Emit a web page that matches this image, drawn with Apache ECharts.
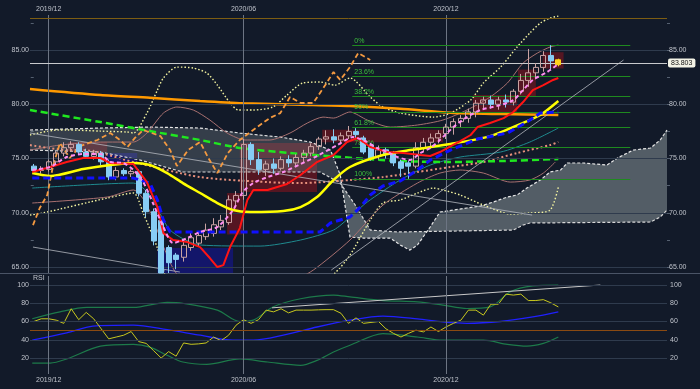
<!DOCTYPE html>
<html><head><meta charset="utf-8">
<script src="https://cdn.jsdelivr.net/npm/echarts@6/dist/echarts.min.js"></script>
<style>html,body{margin:0;padding:0;background:#121a29;}#c{width:700px;height:389px;}</style>
</head><body><div id="c"></div>
<script>
// ---- axis / tick data ----
const xTickIdx = [2, 28, 55];
const xTickLabels = ['2019/12', '2020/06', '2020/12'];
const priceTicks = [65, 70, 75, 80, 85];
const priceMinorTicks = [65, 67.5, 70, 72.5, 75, 77.5, 80, 82.5, 85, 87.5];
const rsiTicks = [20, 40, 60, 80, 100];

// ---- weekly candles: [open, close, low, high] ----
const candles = [
[74.3,73.9,73.7,74.5],[73.9,74.0,73.6,74.3],[74.0,74.7,73.8,74.9],[74.7,75.5,74.5,75.7],[75.5,76.0,75.2,76.5],
[76.0,76.3,75.6,76.6],[76.3,75.6,75.4,76.5],[75.6,75.2,75.0,75.9],[75.2,75.5,74.9,75.8],[75.5,74.7,74.4,75.7],
[74.7,73.3,73.0,74.9],[73.3,73.9,73.0,74.2],[73.9,73.6,73.4,74.1],[73.6,73.8,73.3,74.0],[73.8,71.8,71.5,74.0],
[71.8,70.1,69.6,72.1],[70.1,67.4,67.0,70.4],[69.3,64.45,64.45,69.5],[66.8,65.4,64.45,67.0],[66.1,65.7,64.8,66.3],
[65.9,67.0,65.5,67.5],[66.8,67.7,66.5,68.2],[67.2,67.9,66.9,68.3],[67.8,68.4,67.5,69.0],[68.1,68.9,67.8,69.5],
[68.7,69.3,68.4,69.8],[69.1,71.2,68.9,71.6],[71.1,71.6,70.6,72.0],[71.6,76.3,71.2,76.8],[76.3,74.9,74.4,76.5],
[74.9,74.0,73.5,75.6],[74.0,74.5,73.4,74.8],[74.5,74.1,73.6,75.0],[74.1,74.9,73.9,75.2],[74.9,74.6,74.2,75.3],
[74.6,75.1,74.3,75.4],[75.1,75.5,74.6,75.8],[75.5,76.1,75.2,76.4],[76.1,76.8,75.8,77.0],[76.8,77.0,76.3,77.6],
[77.0,76.7,76.4,77.7],[76.7,77.1,76.3,77.4],[77.1,77.5,76.8,78.0],[77.5,77.2,76.9,77.8],[76.9,75.6,75.4,77.1],
[76.2,75.0,74.8,76.4],[75.2,75.8,74.9,76.2],[75.8,75.4,75.0,76.0],[75.5,74.6,74.3,75.7],[74.7,74.1,73.3,74.9],
[74.6,74.3,73.133,74.8],[74.3,76.0,74.1,76.5],[76.0,76.5,75.6,76.9],[76.5,76.9,75.9,77.3],[76.9,77.3,76.4,77.6],
[77.3,77.9,76.8,78.2],[77.9,78.4,77.2,78.7],[78.4,78.7,77.9,79.0],[78.7,79.3,78.3,79.6],[79.3,80.1,78.8,80.4],
[80.1,80.4,79.5,80.7],[80.4,80.0,79.6,80.8],[80.0,80.4,79.5,80.7],[80.4,80.2,79.7,80.9],[80.2,81.2,79.9,81.4],
[81.2,82.2,80.9,82.8],[82.2,82.9,81.6,85.1],[82.9,83.4,82.3,83.8],[83.4,84.5,83.0,84.9],[84.5,84.0,83.2,85.449],
[84.1,83.65,83.5,84.2]
];
const lastPrice = 83.803;

// ---- overlay lines: [week index, price] ----
const maLong = [[-0.5,81.41],[8.9,80.85],[15.5,80.60],[22.2,80.30],[27.9,80.09],[35.6,79.96],[42.2,79.84],[48.9,79.59],[55.6,79.22],[62.3,79.10],[70,79.01]];
const maMid = [[-0.5,79.47],[8.9,78.36],[15.5,77.53],[22.2,76.71],[27.5,75.97],[34.2,75.51],[40.9,75.14],[48.9,74.77],[55.6,74.68],[62.3,74.77],[70,74.95]];
const maYellow = [[-0.2,73.66],[2.2,73.39],[6.6,74.03],[10.2,74.40],[13.3,74.59],[15.5,74.40],[17.8,73.66],[19.9,72.74],[22.2,71.82],[24.5,70.90],[26.6,70.25],[28.9,70.07],[33.3,70.16],[35.6,70.53],[37.8,71.45],[40.0,73.02],[42.2,74.22],[46.6,75.32],[50.2,75.78],[55.6,76.34],[60.9,77.07],[64.9,78.18],[67.6,79.01],[70,80.30]];
const redLine = [[-0.2,73.76],[2.2,74.22],[4.4,74.68],[6.6,75.05],[8.9,75.05],[10.2,74.59],[13.3,74.49],[15.1,72.83],[16.5,70.53],[17.3,68.13],[18.6,67.49],[20.5,67.30],[22.2,66.84],[23.5,65.83],[24.5,65.00],[25.3,65.18],[26.2,66.84],[27.5,68.59],[28.5,71.18],[29.3,72.10],[31.2,72.10],[33.8,72.65],[35.6,73.48],[37.8,74.68],[40.0,75.32],[41.8,76.52],[43.2,76.89],[44.0,76.52],[44.9,76.06],[47.2,75.60],[49.3,75.51],[51.6,75.32],[52.9,75.23],[54.2,75.60],[55.9,76.24],[56.9,76.61],[58.3,77.17],[59.2,77.90],[60.9,78.27],[62.7,78.73],[64.0,79.29],[65.3,80.21],[66.6,81.31],[68.0,81.77],[69.3,82.24],[70,82.42]];
const blueLine = [[-0.2,73.20],[13.3,73.20],[14.2,73.02],[15.5,72.74],[16.5,71.18],[17.3,69.33],[18.2,68.23],[38.2,68.23],[39.6,69.06],[42.2,69.61],[43.6,70.53],[44.9,71.64],[46.6,72.47],[48.9,72.93],[51.2,73.94],[52.9,74.86],[55.6,75.78],[59.2,76.80],[63.2,77.35],[65.8,78.36],[67.6,79.19],[70,79.29]];
const pinkMA = [[-0.2,73.94],[2.2,74.22],[4.4,75.14],[6.6,75.41],[8.9,75.41],[10.2,74.68],[11.9,74.59],[13.3,73.94],[14.6,72.83],[15.9,70.90],[17.3,68.69],[18.6,67.21],[20.5,67.67],[22.2,68.23],[24.5,68.69],[26.6,70.25],[27.9,71.91],[29.3,72.74],[31.2,73.29],[33.3,73.76],[35.6,74.49],[37.8,75.23],[40.5,76.24],[42.6,76.98],[44.5,76.52],[45.8,75.97],[47.2,75.60],[48.5,75.14],[50.2,74.86],[51.6,75.51],[52.9,75.97],[54.2,76.71],[56.0,77.90],[57.8,78.82],[59.6,79.47],[62.3,79.93],[64.0,80.39],[65.3,81.31],[66.6,82.24],[68.5,82.97],[70,83.71]];
const lagging = [[-0.1,68.87],[0.8,70.44],[1.8,71.64],[2.6,74.40],[3.5,76.43],[4.8,75.05],[6.2,76.15],[8.5,76.71],[10.2,77.35],[11.5,76.71],[12.5,76.06],[13.5,76.90],[14.6,77.63],[16.9,77.07],[18.2,75.78],[19.1,74.31],[20.6,75.78],[22.2,76.52],[23.3,75.05],[24.5,73.66],[25.9,75.51],[27.5,76.71],[29.8,77.90],[31.5,78.73],[32.9,79.19],[34.2,80.67],[35.6,80.12],[37.3,80.12],[38.9,81.77],[40.0,82.97],[40.9,82.24],[42.2,83.43],[43.3,84.72],[44.9,84.08]];
const bbUp2 = [[-0.5,77.17],[3.2,77.63],[4.4,77.63],[8.9,77.53],[12.5,77.44],[13.3,77.35],[15.1,79.19],[16.5,81.31],[17.3,82.42],[19.1,83.43],[21.3,83.34],[23.1,82.88],[24.5,81.77],[26.2,80.12],[27.3,79.47],[29.3,79.47],[31.9,79.75],[33.8,80.85],[35.9,81.96],[38.2,82.05],[40.2,81.77],[42.2,82.42],[44.9,80.67],[46.6,79.75],[48.9,79.19],[53.3,78.82],[55.6,79.19],[58.3,80.39],[60.0,81.96],[62.3,83.43],[64.5,85.28],[66.2,86.57],[67.6,87.49],[68.9,87.95],[70,88.13]];
const bbLow2 = [[-0.5,69.79],[1.2,69.98],[9.8,71.36],[13.3,71.82],[14.6,69.98],[16.5,66.75],[17.5,64.26],[19,61],[25,60.5],[32,62],[38,63.5],[40.2,64.45],[42.2,66.10],[44.9,69.33],[46.6,70.90],[48.9,71.18],[51.2,71.82],[53.3,72.28],[54.6,72.10],[56.9,71.64],[60.0,70.71],[63.6,69.89],[66.2,69.98],[68.9,70.25],[70,72.37]];
const bbUp1 = [[-0.5,75.78],[3.5,76.24],[8.9,76.52],[13.3,76.52],[15.1,77.35],[17.3,79.19],[19.1,79.75],[21.3,79.47],[23.5,78.55],[25.8,77.35],[28.2,76.71],[31.5,76.71],[34.2,77.35],[36.5,78.27],[38.6,78.82],[40.0,78.73],[42.2,79.29],[44.5,78.55],[47.6,77.90],[51.2,78.09],[54.6,78.55],[57.8,79.47],[60.9,80.67],[63.2,81.96],[65.3,83.80],[67.2,84.72],[68.9,85.28],[70,85.46]];
const bbLow1 = [[-0.2,70.90],[9.8,71.45],[13.3,72.10],[15.1,70.71],[17.5,66.56],[18.9,64.54],[22,62.5],[28,62],[34,63.5],[37.3,64.72],[42.2,67.49],[46.6,70.71],[51.2,72.74],[54.2,73.66],[56.9,73.94],[60.0,73.66],[63.6,72.83],[66.2,73.02],[68.0,73.66],[69.6,74.68]];
const tealLine = [[-0.2,72.28],[13.3,72.74],[15.5,71.64],[18.2,68.41],[22.2,67.03],[30.2,66.93],[35.6,67.49],[40.0,68.41],[42.2,69.61],[44.5,70.99],[48.9,73.02],[52.9,74.40],[56.9,75.14],[62.3,75.60],[66.2,76.52],[70,77.81]];
const salmonDots = [[-0.5,76.24],[4.6,75.78],[6.6,75.78],[13.3,74.68],[22.2,73.29],[31.2,72.83],[35.6,72.74],[42.2,73.02],[46.6,73.29],[51.2,73.76],[55.6,74.22],[60.0,74.68],[64.5,75.51],[68.9,76.24],[70,76.52]];
const spanA = [[-0.5,77.63],[8.9,77.81],[15.5,77.90],[22.2,77.81],[27.5,77.35],[32.9,76.98],[36.9,76.52],[39.6,75.78],[40.9,73.48],[42.2,67.76],[44.0,67.67],[47.6,67.67],[48.9,67.03],[50.2,66.56],[51.2,67.03],[52.9,68.69],[54.2,70.07],[57.8,70.44],[59.6,70.62],[61.3,70.99],[63.2,71.45],[64.5,71.64],[65.8,72.28],[67.6,73.02],[68.9,73.76],[70.3,73.94],[71.2,74.59],[73.3,74.59],[76.5,74.40],[77.9,75.05],[80.0,75.78],[82.3,75.97],[83.6,76.71],[84.5,77.63]];
const spanB = [[-0.5,75.78],[8.9,75.60],[14.2,74.86],[19.9,73.76],[38.2,73.76],[40.9,72.74],[42.9,70.71],[44.9,68.41],[48.5,68.23],[64.0,68.41],[65.3,68.87],[66.2,69.06],[82.3,69.15],[83.6,69.61],[84.5,70.25]];

// zones: [idxFrom, priceTop, idxTo, priceBottom]
const redZones = [[4.6,76.52,9.8,75.60],[27.5,76.43,37.8,71.91],[25.8,71.82,27.9,68.0],[38.5,77.65,54.6,76.5],[58.6,80.85,64.5,79.3],[64.6,83.2,67.0,80.7],[67.9,84.8,70.7,83.3]];
const blueZones = [[9.8,75.51,13.8,74.59],[16.5,66.75,26.6,64.45]];

// fibonacci
const fibPct = ['0%','23.6%','38.2%','50%','61.8%','78.6%','100%'];
const fibVal = [85.449, 82.542, 80.744, 79.291, 77.838, 76.040, 73.133];
const fibFrom = 42.5, fibTo = 79.6;
const hiLine = 87.95;

// trend lines: [[idx,price],[idx,price]]
const trendLines = [
  [[-0.5,77.35],[66.5,69.79]],
  [[-0.1,66.84],[19.5,64.54]],
  [[17.8,64.72],[67.6,88.41]],
  [[39.7,64.72],[78.7,84.08]]
];

// RSI panel
const rsi = [60,63,63,61.5,58,74,62,70,63,52,41,43,45,49,38,36,28,20,27,22,36.5,35,35.5,36.5,43,39,45,56,62,58,62,72.5,70.6,74,69.5,72.5,72.5,72.5,72.8,73,73,69,58,64,58,59,60,52,47,43,47,50.5,48.6,54,49,54,58,61.5,72.5,72.5,67,79,79,90,89,90,83,83,84,80.5,76];
const rsiMA = [[-0.2,39.5],[4.4,47.5],[7.9,55],[13.3,56],[17.8,51],[22.2,45],[26.6,39.5],[29.3,39.5],[33.3,45],[37.8,54],[42.2,61.5],[46.6,66],[51.2,63],[54.6,59.6],[57.8,58],[62.3,60],[66.6,65],[70,70.6]];
const rsiUp = [[-0.2,63],[3.5,70.6],[7.1,75.4],[13.3,75.4],[17.8,81],[19.9,80],[24.5,72.5],[27.5,60],[29.3,61.5],[31.9,76],[35.6,85],[40.0,89],[42.2,87],[46.6,83],[51.2,81.6],[54.6,78],[57.8,74.3],[60.9,76],[63.6,92.7],[66.6,99],[70,100]];
const rsiLow = [[-0.2,14.5],[2.2,14.5],[4.4,19],[8.9,33],[13.3,35],[15.5,32],[17.8,23],[19.9,15.6],[23.1,13],[27.5,19],[31.2,15.6],[35.6,12],[37.8,17.4],[40.0,26.6],[42.2,34],[46.6,46.8],[51.2,43],[54.6,39.5],[60.0,39.5],[63.2,35],[65.8,33],[68.0,36],[70,43]];
const rsiTrend = [[31.8,75],[75.6,100]];
const rsiMid = 50;

// ---------------- chart ----------------
const FONT = 'Liberation Sans';
const LBL = '#bfc3cb';
const chart = echarts.init(document.getElementById('c'), null, {renderer: 'canvas'});

function lineS(data, color, width, type, z, smooth) {
  return {type: 'line', xAxisIndex: 0, yAxisIndex: 0, data: data, symbol: 'none', silent: true, clip: true,
    smooth: smooth === undefined ? 0.25 : smooth, z: z || 4,
    lineStyle: {color: color, width: width, type: type || 'solid'}};
}
const xCommon = {type: 'value', min: -0.5, max: 84.5, splitLine: {show: false}, axisLine: {show: false}, axisTick: {show: false}};

const candleData = candles.map((c, i) => {
  const d = {value: [i, c[0], c[1], c[2], c[3]]};
  if (i === candles.length - 1) d.itemStyle = {color: '#ffd21a', color0: '#ffd21a', borderColor: '#ffd21a', borderColor0: '#ffd21a'};
  return d;
});

const zoneData = redZones.map(z => [{coord: [z[0], z[1]], itemStyle: {color: 'rgba(140,20,30,0.55)'}}, {coord: [z[2], z[3]]}])
  .concat(blueZones.map(z => [{coord: [z[0], z[1]], itemStyle: {color: 'rgba(20,20,150,0.6)'}}, {coord: [z[2], z[3]]}]));

const fibLines = [];
fibVal.forEach((v, k) => {
  fibLines.push([{coord: [fibFrom, v], label: {show: true, formatter: fibPct[k], position: 'insideStartTop', distance: [2, 1]}}, {coord: [fibTo, v]}]);
  fibLines.push([{coord: [fibFrom, v], lineStyle: {opacity: 0}, label: {show: true, formatter: v.toFixed(3), position: 'insideEndTop', distance: [2, 1]}}, {coord: [fibTo, v]}]);
});

const splitCut = 40.9;
function cloud(a, b, fill, z) {
  return {type: 'custom', xAxisIndex: 0, yAxisIndex: 0, data: [0], silent: true, z: z, clip: true,
    renderItem: function (params, api) {
      const pts = a.map(p => api.coord(p)).concat(b.slice().reverse().map(p => api.coord(p)));
      return {type: 'polygon', shape: {points: pts}, style: {fill: fill}};
    }};
}
const leftA = spanA.filter(p => p[0] <= splitCut), rightA = spanA.filter(p => p[0] >= splitCut);
const leftB = spanB.filter(p => p[0] <= splitCut), rightB = spanB.filter(p => p[0] >= splitCut);

const option = {
  backgroundColor: '#121a29',
  animation: false,
  textStyle: {fontFamily: FONT},
  grid: [
    {left: 30, right: 33, top: 15, height: 258},
    {left: 30, right: 33, top: 276, height: 98}
  ],
  xAxis: [
    Object.assign({}, xCommon, {gridIndex: 0, position: 'top',
      axisLabel: {show: true, customValues: xTickIdx, formatter: v => xTickLabels[xTickIdx.indexOf(Math.round(v))] || '', color: LBL, fontSize: 7, margin: 2}}),
    Object.assign({}, xCommon, {gridIndex: 1, position: 'bottom',
      axisLabel: {show: true, customValues: xTickIdx, formatter: v => xTickLabels[xTickIdx.indexOf(Math.round(v))] || '', color: LBL, fontSize: 7, margin: 3}})
  ],
  yAxis: [
    {type: 'value', gridIndex: 0, position: 'left', min: 64.45, max: 88.23, splitLine: {show: false}, axisLine: {show: false},
      axisTick: {show: true, customValues: priceMinorTicks, length: 3, lineStyle: {color: '#556070'}},
      axisLabel: {customValues: priceTicks, formatter: v => v.toFixed(2), color: LBL, fontSize: 7, margin: 1}},
    {type: 'value', gridIndex: 0, position: 'right', min: 64.45, max: 88.23, splitLine: {show: false}, axisLine: {show: false},
      axisTick: {show: true, customValues: priceMinorTicks, length: 3, lineStyle: {color: '#556070'}},
      axisLabel: {customValues: priceTicks, formatter: v => v.toFixed(2), color: LBL, fontSize: 7, margin: 2}},
    {type: 'value', gridIndex: 1, position: 'left', min: 2.47, max: 109.9, splitLine: {show: false}, axisLine: {show: false}, axisTick: {show: false},
      axisLabel: {customValues: rsiTicks, color: LBL, fontSize: 7, margin: 1}},
    {type: 'value', gridIndex: 1, position: 'right', min: 2.47, max: 109.9, splitLine: {show: false}, axisLine: {show: false}, axisTick: {show: false},
      axisLabel: {customValues: rsiTicks, color: LBL, fontSize: 7, margin: 3}}
  ],
  graphic: [
    {type: 'line', shape: {x1: 0, y1: 273.5, x2: 700, y2: 273.5}, style: {stroke: '#4a5466', lineWidth: 1}, z: 0},
    {type: 'text', left: 33, top: 275, style: {text: 'RSI', fill: LBL, font: '7px ' + FONT}}
  ],
  series: [
    {type: 'line', xAxisIndex: 0, yAxisIndex: 0, data: [], z: 0, silent: true,
      markLine: {silent: true, symbol: 'none', label: {show: false}, animation: false,
        data: priceTicks.map(v => ({yAxis: v, lineStyle: {color: '#2f3b4d', width: 1, type: 'solid'}}))
          .concat(xTickIdx.map(v => ({xAxis: v, lineStyle: {color: '#6d7583', width: 1, type: 'solid'}})))}},
    {type: 'line', xAxisIndex: 1, yAxisIndex: 2, data: [], z: 0, silent: true,
      markLine: {silent: true, symbol: 'none', label: {show: false}, animation: false,
        data: rsiTicks.map(v => ({yAxis: v, lineStyle: {color: '#2f3b4d', width: 1, type: 'solid'}}))
          .concat(xTickIdx.map(v => ({xAxis: v, lineStyle: {color: '#6d7583', width: 1, type: 'solid'}})))
          .concat([{yAxis: rsiMid, lineStyle: {color: '#8a4a12', width: 1.2, type: 'solid'}}])}},
    cloud(leftA, leftB, 'rgba(120,132,138,0.35)', 1),
    cloud(rightA, rightB, 'rgba(175,185,188,0.42)', 1),
    lineS(spanA, '#e6e6e6', 1.2, [3, 2], 2, 0),
    lineS(spanB, '#d8d8d8', 1.2, [3, 2], 2, 0),
    {type: 'line', xAxisIndex: 0, yAxisIndex: 0, data: [], z: 2, silent: true,
      markArea: {silent: true, data: zoneData}},
    {type: 'line', xAxisIndex: 0, yAxisIndex: 0, data: [], z: 3, silent: true,
      markLine: {silent: true, symbol: 'none', animation: false,
        lineStyle: {color: '#1f8a1f', width: 1, type: 'solid'},
        label: {color: '#3cbf3c', fontSize: 7, fontFamily: FONT},
        data: fibLines
          .concat(trendLines.map(t => [{coord: t[0], lineStyle: {color: '#b4b8bf', width: 0.8, type: 'solid'}, label: {show: false}}, {coord: t[1]}]))
          .concat([{yAxis: hiLine, lineStyle: {color: '#7d5d12', width: 1, type: 'solid'}, label: {show: false}}])
          .concat([{yAxis: lastPrice, lineStyle: {color: '#c8cacd', width: 1, type: 'solid'},
            label: {show: true, position: 'end', distance: 1, formatter: lastPrice.toFixed(3), color: '#111', backgroundColor: '#f3f3e6',
              padding: [1, 3, 1, 3], borderRadius: 2, fontSize: 7, fontFamily: FONT}}])}},
    lineS(bbUp2, '#f4f4a0', 1.4, [1.5, 2], 4),
    lineS(bbLow2, '#f4f4a0', 1.4, [1.5, 2], 4),
    lineS(bbUp1, '#a87070', 1, 'solid', 4),
    lineS(bbLow1, '#a87070', 1, 'solid', 4),
    lineS(tealLine, '#1f8a8f', 1, 'solid', 4),
    lineS(salmonDots, '#e8907c', 2, [2, 2.5], 4),
    lineS(maLong, '#ff9900', 2.5, 'solid', 4),
    lineS(maMid, '#1fe81f', 2.5, [7, 4], 4),
    lineS(lagging, '#f59a40', 1.8, [5, 3], 5, 0),
    {type: 'candlestick', xAxisIndex: 0, yAxisIndex: 0, z: 5, silent: true, barWidth: 5.5, clip: true,
      dimensions: ['idx', 'open', 'close', 'lowest', 'highest'], encode: {x: 0, y: [1, 2, 3, 4]},
      itemStyle: {color: 'rgba(0,0,0,0)', color0: '#87cdf5', borderColor: '#c9a3a3', borderColor0: '#87cdf5', borderWidth: 1},
      data: candleData},
    lineS(maYellow, '#ffff00', 2.5, 'solid', 6),
    lineS(blueLine, '#1010ff', 3, [7, 4], 6, 0),
    lineS(redLine, '#ff1414', 2, 'solid', 6, 0),
    lineS(pinkMA, '#ff8cf0', 2, [4, 3], 7),
    {type: 'line', xAxisIndex: 1, yAxisIndex: 2, data: rsiUp, symbol: 'none', smooth: 0.3, silent: true, lineStyle: {color: '#1d7a4a', width: 1.2}},
    {type: 'line', xAxisIndex: 1, yAxisIndex: 2, data: rsiLow, symbol: 'none', smooth: 0.3, silent: true, lineStyle: {color: '#1d7a4a', width: 1.2}},
    {type: 'line', xAxisIndex: 1, yAxisIndex: 2, data: rsiMA, symbol: 'none', smooth: 0.3, silent: true, lineStyle: {color: '#2020ff', width: 1.3}},
    {type: 'line', xAxisIndex: 1, yAxisIndex: 2, data: rsiTrend, symbol: 'none', silent: true, lineStyle: {color: '#c8c8c8', width: 1}},
    {type: 'line', xAxisIndex: 1, yAxisIndex: 2, data: rsi.map((v, i) => [i, v]), symbol: 'none', silent: true, lineStyle: {color: '#c8c81e', width: 1}}
  ]
};
chart.setOption(option);
</script></body></html>
